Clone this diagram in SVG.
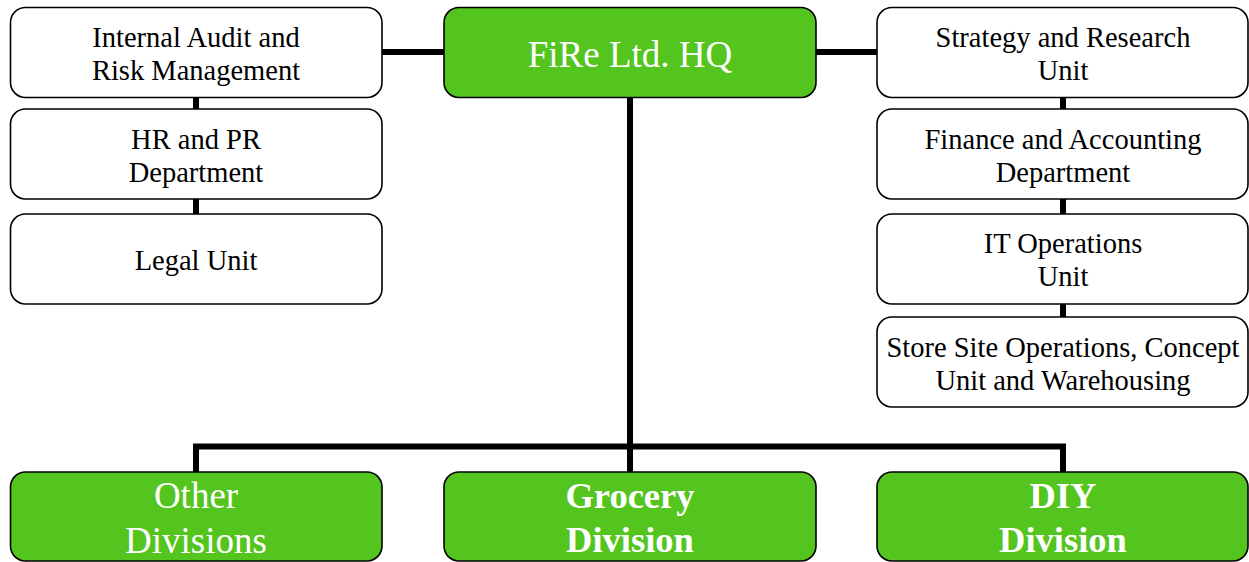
<svg xmlns="http://www.w3.org/2000/svg" width="1249" height="562" viewBox="0 0 1249 562">
  <style>
    .box { fill: #ffffff; stroke: #000000; stroke-width: 1.6; }
    .hq { fill: #54c41e; stroke: #000000; stroke-width: 1.6; }
    .link { fill: none; stroke: #000000; stroke-width: 6; stroke-linejoin: miter; stroke-linecap: butt; }
    .t { font-family: "Liberation Serif", "Times New Roman", serif; font-size: 28.5px; fill: #000000; text-anchor: middle; }
    .tw { font-family: "Liberation Serif", "Times New Roman", serif; font-size: 37px; fill: #ffffff; text-anchor: middle; }
    .twb { font-family: "Liberation Serif", "Times New Roman", serif; font-size: 36.5px; font-weight: bold; fill: #ffffff; text-anchor: middle; }
  </style>

  <!-- connectors -->
  <g id="connectors">
    <path class="link" d="M382 52 H444 M816 52 H877"/>
    <path class="link" d="M196 97 V109 M196 199 V214"/>
    <path class="link" d="M1063 97 V109 M1063 199 V214 M1063 304 V317"/>
    <path class="link" d="M630 97 V472"/>
    <path class="link" d="M196 472 V446.5 H1063 V472"/>
  </g>

  <!-- headquarters -->
  <g id="hq">
    <rect class="hq" x="444" y="7.5" width="372" height="90" rx="15"/>
    <text class="tw" x="630" y="67">FiRe Ltd. HQ</text>
  </g>

  <!-- staff units, left column -->
  <g id="audit">
    <rect class="box" x="10.5" y="7.5" width="371.5" height="90" rx="15"/>
    <text class="t" x="196" y="47">Internal Audit and</text>
    <text class="t" x="196" y="80">Risk Management</text>
  </g>
  <g id="hr">
    <rect class="box" x="10.5" y="109" width="371.5" height="90" rx="15"/>
    <text class="t" x="196" y="149">HR and PR</text>
    <text class="t" x="196" y="182">Department</text>
  </g>
  <g id="legal">
    <rect class="box" x="10.5" y="214" width="371.5" height="90" rx="15"/>
    <text class="t" x="196" y="270">Legal Unit</text>
  </g>

  <!-- staff units, right column -->
  <g id="strategy">
    <rect class="box" x="877" y="7.5" width="371" height="90" rx="15"/>
    <text class="t" x="1063" y="47">Strategy and Research</text>
    <text class="t" x="1063" y="80">Unit</text>
  </g>
  <g id="finance">
    <rect class="box" x="877" y="109" width="371" height="90" rx="15"/>
    <text class="t" x="1063" y="149">Finance and Accounting</text>
    <text class="t" x="1063" y="182">Department</text>
  </g>
  <g id="it">
    <rect class="box" x="877" y="214" width="371" height="90" rx="15"/>
    <text class="t" x="1063" y="253">IT Operations</text>
    <text class="t" x="1063" y="286">Unit</text>
  </g>
  <g id="store">
    <rect class="box" x="877" y="317" width="371" height="90" rx="15"/>
    <text class="t" x="1063" y="357">Store Site Operations, Concept</text>
    <text class="t" x="1063" y="390">Unit and Warehousing</text>
  </g>

  <!-- divisions -->
  <g id="other">
    <rect class="hq" x="10.5" y="472" width="371.5" height="89" rx="15"/>
    <text class="tw" x="196" y="508">Other</text>
    <text class="tw" x="196" y="553">Divisions</text>
  </g>
  <g id="grocery">
    <rect class="hq" x="444" y="472" width="372" height="89" rx="15"/>
    <text class="twb" x="630" y="508">Grocery</text>
    <text class="twb" x="630" y="552">Division</text>
  </g>
  <g id="diy">
    <rect class="hq" x="877" y="472" width="371" height="89" rx="15"/>
    <text class="twb" x="1063" y="508">DIY</text>
    <text class="twb" x="1063" y="552">Division</text>
  </g>
</svg>
